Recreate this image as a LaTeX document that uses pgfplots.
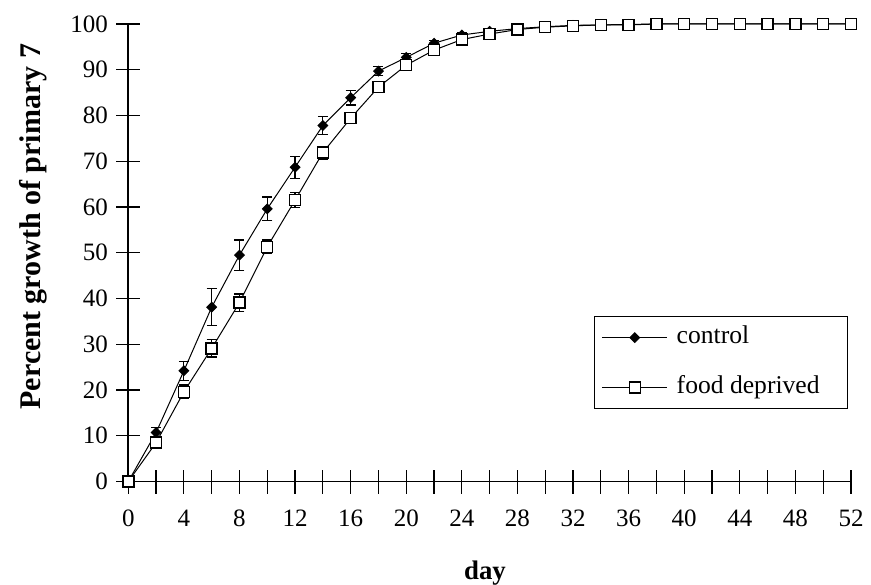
\documentclass[border=0pt]{standalone}
\usepackage{pgfplots}
\pgfplotsset{compat=1.18}
\usepackage{fontspec}
\setmainfont{Liberation Serif}

\begin{document}
\begin{tikzpicture}
\path[use as bounding box] (-64.15pt,-51.25pt) rectangle (371.35pt,240.75pt);
\begin{axis}[
  at={(0,0)}, anchor=south west,
  scale only axis,
  width=361.35pt, height=228.75pt,
  xmin=0, xmax=52, ymin=0, ymax=100,
  axis lines*=left,
  axis line style={line width=0.9pt, black},
  clip=false,
  xtick={0,4,...,52},
  minor xtick={2,6,...,50},
  ytick={0,10,...,100},
  tick align=center,
  major tick length=12pt,
  minor tick length=12pt,
  every tick/.style={black, line width=0.6pt},
  /pgf/number format/assume math mode=true,
  tick label style={font=\fontsize{12.5}{14}\selectfont},
  yticklabel style={anchor=east, inner sep=0pt, xshift=-4pt},
  xticklabel style={anchor=north, inner sep=0pt, yshift=-8pt},
  xlabel={day},
  ylabel={Percent growth of primary 7},
  xlabel style={font=\fontsize{13.4}{16}\selectfont\bfseries, at={(axis description cs:0.4936,-0.2)}, anchor=center},
  ylabel style={font=\fontsize{15}{18}\selectfont\bfseries, at={(axis description cs:-0.1315,0.557)}, anchor=center, rotate=0},
  legend style={at={(axis cs:51.8,15.8)}, anchor=south east, draw=black, line width=0.6pt,
    font=\fontsize{12.8}{14}\selectfont, inner xsep=8.5pt, inner ysep=2.5pt, row sep=9pt,
    nodes={inner sep=2pt, text height=9pt, text depth=3pt}},
  legend cell align=left,
  legend image code/.code={
    \path[draw=none, fill=none] (-3.5pt,-3.1pt) rectangle (32.5pt,3.1pt);
    \draw[overlay, xshift=-8pt, mark repeat=2, mark phase=2, #1] plot coordinates {(0pt,0pt) (16.25pt,0pt) (32.5pt,0pt)};
  },
]
\addplot[black, line width=0.5pt, mark=square*, mark size=1.7pt,
  mark options={solid, fill=black, rotate=45},
  error bars/.cd, y dir=both, y explicit,
  error mark options={black, rotate=90, mark size=2.5pt, line width=0.6pt},
  error bar style={line width=0.6pt}]
  table[x=x, y=y, y error=e] {
  x y e
  0 0 0
  2 10.7 1.1
  4 24.2 2.1
  6 38.1 4.0
  8 49.5 3.3
  10 59.6 2.6
  12 68.7 2.4
  14 77.8 1.9
  16 83.9 1.6
  18 89.7 1.0
  20 92.7 0.8
  22 95.8 0.6
  24 97.6 0.5
  26 98.4 0.4
  28 99.0 0
  30 99.4 0
  32 99.7 0
  34 99.8 0
  36 99.9 0
  38 100 0
  40 100 0
  42 100 0
  44 100 0
  46 100 0
  48 100 0
  50 100 0
  52 100 0
  };
\addlegendentry{\hspace*{-5.3pt}control}
\addplot[black, line width=0.5pt, mark=square*, mark size=2.75pt,
  mark options={solid, fill=white, line width=0.7pt},
  error bars/.cd, y dir=both, y explicit,
  error mark options={black, rotate=90, mark size=2.5pt, line width=0.6pt},
  error bar style={line width=0.6pt}]
  table[x=x, y=y, y error=e] {
  x y e
  0 0 0
  2 8.5 1.0
  4 19.6 1.5
  6 29.1 1.9
  8 39.1 1.9
  10 51.3 1.5
  12 61.5 1.6
  14 71.9 1.4
  16 79.4 1.2
  18 86.2 0.8
  20 91.0 0.8
  22 94.3 0.6
  24 96.6 0.5
  26 97.8 0.4
  28 98.8 0
  30 99.3 0
  32 99.6 0
  34 99.8 0
  36 99.8 0
  38 100 0
  40 100 0
  42 100 0
  44 100 0
  46 100 0
  48 100 0
  50 100 0
  52 100 0
  };
\addlegendentry{\hspace*{-5.3pt}food deprived\hspace*{3.5pt}}
\end{axis}
\end{tikzpicture}
\end{document}
